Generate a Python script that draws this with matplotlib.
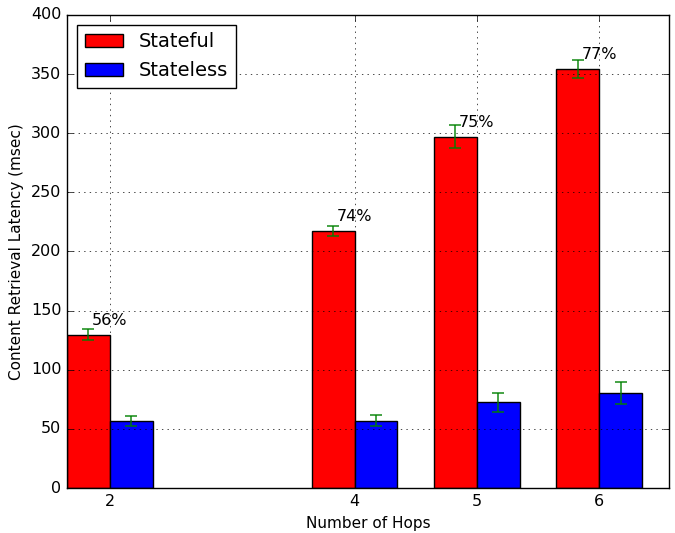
import numpy as np
import matplotlib
matplotlib.use('Agg')
import matplotlib.pyplot as plt

plt.style.use('classic')

# Latency per hop count
hops = [2, 4, 5, 6]
stateful = [129.6, 217.3, 297.1, 354.3]
stateful_err = [4.6, 4.6, 10.0, 8.0]
stateless = [56.5, 56.9, 72.7, 80.1]
stateless_err = [4.0, 4.6, 8.0, 9.4]
savings = ['56%', '74%', '75%', '77%']

width = 0.35
x = np.array(hops)

fig = plt.figure(figsize=(6.75, 5.33), dpi=100, facecolor='white')
ax = fig.add_axes([0.0993, 0.0844, 0.8917, 0.8875])

ax.bar(x - width, stateful, width, color='r', edgecolor='k', linewidth=1,
       align='edge', label='Stateful')
ax.bar(x, stateless, width, color='b', edgecolor='k', linewidth=1,
       align='edge', label='Stateless')
ax.errorbar(x - width / 2, stateful, yerr=stateful_err, fmt='none',
            ecolor='g', elinewidth=1.2, capsize=4, capthick=1.2, alpha=0.85)
ax.errorbar(x + width / 2, stateless, yerr=stateless_err, fmt='none',
            ecolor='g', elinewidth=1.2, capsize=4, capthick=1.2, alpha=0.85)

# reduction labels just above the stateful bars
for xi, h, s in zip(x, stateful, savings):
    ax.text(xi, h + 6, s, ha='center', va='bottom', fontsize=11.5)

ax.set_xlim(1.65, 6.57)
ax.set_ylim(0, 400)
ax.set_xticks(hops)
ax.set_yticks(np.arange(0, 401, 50))
ax.tick_params(labelsize=11.5)
ax.grid(True)
ax.set_xlabel('Number of Hops', fontsize=11)
ax.set_ylabel('Content Retrieval Latency (msec)', fontsize=11)
ax.legend(loc='upper left', fontsize=14)

fig.savefig('out.png', dpi=100, facecolor='white')
